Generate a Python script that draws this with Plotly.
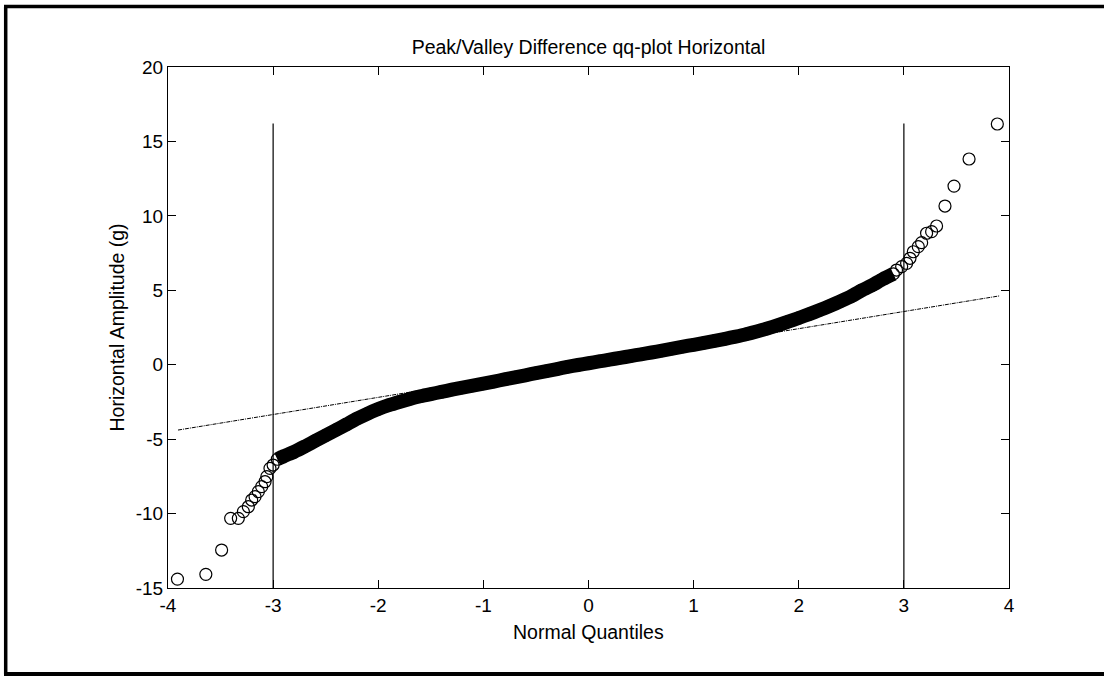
import plotly.graph_objects as go

# ---- data ----
# dense central part of the qq curve (normal quantile, sample value)
band_x = [-2.96, -2.9, -2.8, -2.7, -2.6, -2.5, -2.4, -2.3, -2.2, -2.1, -2.0,
          -1.9, -1.8, -1.7, -1.6, -1.5, -1.4, -1.3, -1.2, -1.1, -1.0,
          -0.9, -0.8, -0.7, -0.6, -0.5, -0.4, -0.3, -0.2, -0.1, 0.0,
          0.1, 0.2, 0.3, 0.4, 0.5, 0.6, 0.7, 0.8, 0.9, 1.0,
          1.1, 1.2, 1.3, 1.4, 1.5, 1.6, 1.7, 1.8, 1.9, 2.0,
          2.1, 2.2, 2.3, 2.4, 2.5, 2.6, 2.7, 2.8, 2.9]
band_y = [-6.35, -6.15, -5.85, -5.5, -5.12, -4.75, -4.38, -4.0, -3.62, -3.28, -2.98,
          -2.72, -2.5, -2.3, -2.12, -1.97, -1.83, -1.68, -1.54, -1.41, -1.27,
          -1.13, -0.99, -0.85, -0.71, -0.57, -0.43, -0.29, -0.15, -0.02, 0.1,
          0.22, 0.34, 0.46, 0.58, 0.7, 0.82, 0.95, 1.08, 1.21, 1.34,
          1.47, 1.6, 1.74, 1.89, 2.05, 2.23, 2.43, 2.65, 2.89, 3.14,
          3.4, 3.67, 3.96, 4.27, 4.6, 5.0, 5.35, 5.75, 6.1]

# lower tail points
low_x = [-3.91, -3.64, -3.49, -3.404, -3.331, -3.283, -3.236, -3.204, -3.172,
         -3.141, -3.109, -3.077, -3.06, -3.03, -3.0]
low_y = [-14.4, -14.08, -12.45, -10.32, -10.32, -9.87, -9.54, -9.09, -8.86,
         -8.53, -8.19, -7.86, -7.52, -6.96, -6.74]

# upper tail points
up_x = [2.93, 2.979, 3.026, 3.058, 3.09, 3.137, 3.169, 3.216, 3.264, 3.311,
        3.391, 3.477, 3.62, 3.889]
up_y = [6.36, 6.59, 6.81, 7.15, 7.59, 7.93, 8.2, 8.83, 8.94, 9.32,
        10.66, 12.0, 13.82, 16.17]

# reference (quartile) line end points
ref_x = [-3.905, 3.906]
ref_y = [-4.39, 4.62]

# +/-3 sigma vertical lines
vline_x = [-3, 3]
vline_y = [-15, 16.2]

x_ticks = [-4, -3, -2, -1, 0, 1, 2, 3, 4]
y_ticks = [-15, -10, -5, 0, 5, 10, 15, 20]

FONT = "Liberation Sans, Arial, Helvetica, sans-serif"
TXT = 19.5
TICK = 19

fig = go.Figure()

# vertical lines
for vx in vline_x:
    fig.add_trace(go.Scatter(x=[vx, vx], y=vline_y, mode="lines",
                             line=dict(color="black", width=1.2),
                             showlegend=False, hoverinfo="skip"))

# dense band (thousands of overlapping circles rendered solid)
fig.add_trace(go.Scatter(x=band_x, y=band_y, mode="lines",
                         line=dict(color="black", width=14, simplify=False, shape="spline",
                                   smoothing=0.6),
                         showlegend=False, hoverinfo="skip"))

all_x = low_x + band_x + up_x
all_y = low_y + band_y + up_y
fig.add_trace(go.Scatter(x=all_x, y=all_y, mode="markers",
                         marker=dict(symbol="circle-open", size=12,
                                     color="black", line=dict(width=1.2, color="black")),
                         showlegend=False))

# reference line
fig.add_trace(go.Scatter(x=ref_x, y=ref_y, mode="lines",
                         line=dict(color="black", width=1, dash="4px,1px,1px,1px"),
                         showlegend=False, hoverinfo="skip"))

L, R, T, B = 168, 95, 67, 88
W, H = 1104, 676
pw, ph = W - L - R, H - T - B

def px_x(p):
    return (p - L) / pw

def px_y(p):
    return (H - B - p) / ph

axis_common = dict(showgrid=False, zeroline=False, showline=True, linecolor="black",
                   linewidth=1, ticks="inside", ticklen=8, tickwidth=1, tickcolor="black",
                   mirror="ticks", tickfont=dict(family=FONT, size=TICK, color="black"))

fig.update_layout(
    width=W, height=H,
    margin=dict(l=L, r=R, t=T, b=B),
    paper_bgcolor="white", plot_bgcolor="white",
    font=dict(family=FONT, size=TXT, color="black"),
    xaxis=dict(range=[-4, 4], tickvals=x_ticks, ticktext=[str(v) for v in x_ticks],
               **axis_common),
    yaxis=dict(range=[-15, 20], tickvals=y_ticks, ticktext=[str(v) for v in y_ticks],
               **axis_common),
    title=dict(text="Peak/Valley Difference qq-plot Horizontal", x=0.5, xref="paper",
               y=1 - 47 / H, yref="container", yanchor="middle", xanchor="center",
               font=dict(family=FONT, size=TXT, color="black")),
    annotations=[
        dict(text="Normal Quantiles", x=0.5, y=px_y(632), xref="paper", yref="paper",
             showarrow=False, xanchor="center", yanchor="middle",
             font=dict(family=FONT, size=TXT, color="black")),
        dict(text="Horizontal Amplitude (g)", x=px_x(116), y=0.5, xref="paper", yref="paper",
             showarrow=False, xanchor="center", yanchor="middle", textangle=-90,
             font=dict(family=FONT, size=TXT, color="black")),
    ],
    shapes=[
        dict(type="line", xref="paper", yref="paper", x0=px_x(5.7), x1=px_x(5.7),
             y0=px_y(6.5), y1=px_y(674), line=dict(color="black", width=3.5)),
        dict(type="line", xref="paper", yref="paper", x0=px_x(4), x1=px_x(1104),
             y0=px_y(6.5), y1=px_y(6.5), line=dict(color="black", width=3.5)),
        dict(type="line", xref="paper", yref="paper", x0=px_x(4), x1=px_x(1104),
             y0=px_y(674), y1=px_y(674), line=dict(color="black", width=4)),
    ],
)

fig.write_html("out.html", config={"displayModeBar": False},
               post_script="document.body.style.margin='0';document.body.style.overflow='hidden';")
